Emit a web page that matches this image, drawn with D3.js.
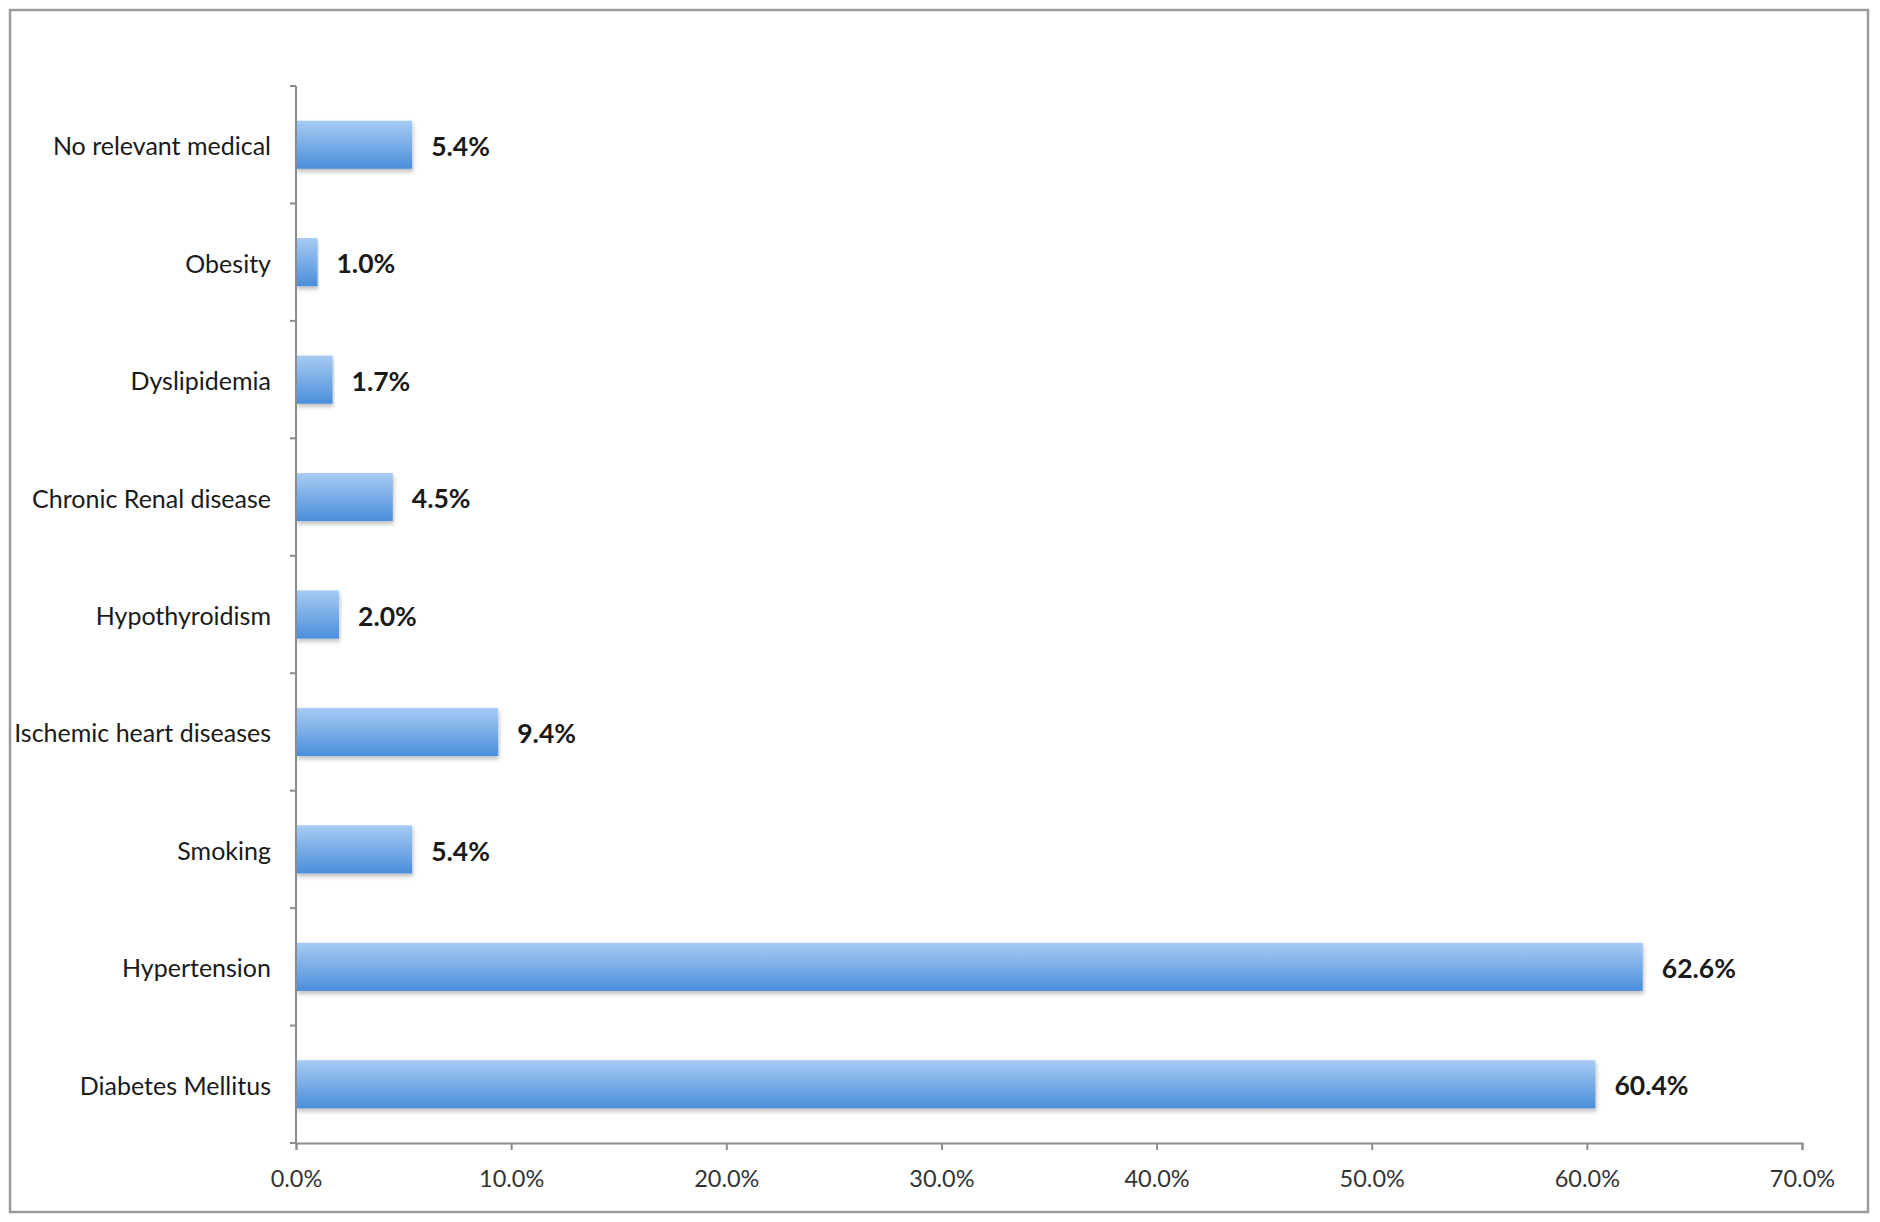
<!DOCTYPE html>
<html>
<head>
<meta charset="utf-8">
<script src="https://cdn.jsdelivr.net/npm/d3@7"></script>
<style>
  html, body { margin: 0; padding: 0; background: #fff; }
  #chart { width: 1880px; height: 1222px; }
  text { font-family: Lato, "Open Sans", sans-serif; }
</style>
</head>
<body>
<div id="chart"></div>
<script>
const categories = [
  "No relevant medical",
  "Obesity",
  "Dyslipidemia",
  "Chronic Renal disease",
  "Hypothyroidism",
  "Ischemic heart diseases",
  "Smoking",
  "Hypertension",
  "Diabetes Mellitus"
];
const percents = [5.4, 1.0, 1.7, 4.5, 2.0, 9.4, 5.4, 62.6, 60.4];
const xTicks = [0, 10, 20, 30, 40, 50, 60, 70];

const width = 1880;
const height = 1222;
const margin = { top: 86, right: 78, bottom: 79, left: 296 };

const svg = d3
  .select("#chart")
  .append("svg")
  .attr("width", width)
  .attr("height", height)
  .attr("viewBox", [0, 0, width, height]);

// gradient + shadow for the bars
const defs = svg.append("defs");
const grad = defs
  .append("linearGradient")
  .attr("id", "barGrad")
  .attr("x1", 0).attr("y1", 0).attr("x2", 0).attr("y2", 1);
grad.append("stop").attr("offset", "0%").attr("stop-color", "#a7cbf3");
grad.append("stop").attr("offset", "100%").attr("stop-color", "#4a8edb");

const shadow = defs.append("filter").attr("id", "shadow")
  .attr("x", "-5%").attr("y", "-20%").attr("width", "110%").attr("height", "160%");
shadow.append("feDropShadow")
  .attr("dx", 1).attr("dy", 3).attr("stdDeviation", 2)
  .attr("flood-color", "#000").attr("flood-opacity", 0.25);

// outer frame
svg.append("rect")
  .attr("x", 10).attr("y", 10)
  .attr("width", 1858).attr("height", 1202)
  .attr("fill", "none")
  .attr("stroke", "#9a9a9a")
  .attr("stroke-width", 2.5);

const x = d3.scaleLinear()
  .domain([0, 70])
  .range([margin.left, width - margin.right]);

const y = d3.scaleBand()
  .domain(categories)
  .range([margin.top, height - margin.bottom])
  .paddingInner(0.59)
  .paddingOuter(0.295);

// bars
svg.append("g")
  .selectAll("rect")
  .data(categories)
  .enter()
  .append("rect")
  .attr("x", x(0))
  .attr("y", (d) => y(d))
  .attr("width", (d, i) => x(percents[i]) - x(0))
  .attr("height", y.bandwidth())
  .attr("fill", "url(#barGrad)")
  .attr("filter", "url(#shadow)");

// value labels
svg.append("g")
  .selectAll("text")
  .data(categories)
  .enter()
  .append("text")
  .attr("x", (d, i) => x(percents[i]) + 19)
  .attr("y", (d) => y(d) + y.bandwidth() / 2)
  .attr("dy", "0.42em")
  .attr("font-size", 26.5)
  .attr("font-weight", "bold")
  .attr("fill", "#1a1a1a")
  .text((d, i) => percents[i].toFixed(1) + "%");

// y axis line + ticks at band boundaries
const axisColor = "#8c8c8c";
const yAxis = svg.append("g");
yAxis.append("line")
  .attr("x1", x(0)).attr("x2", x(0))
  .attr("y1", margin.top).attr("y2", height - margin.bottom)
  .attr("stroke", axisColor).attr("stroke-width", 2);

const step = y.step();
const boundaries = d3.range(categories.length + 1).map((i) => margin.top + i * step);
yAxis.selectAll(".ytick")
  .data(boundaries)
  .enter()
  .append("line")
  .attr("x1", x(0) - 6).attr("x2", x(0))
  .attr("y1", (d) => d).attr("y2", (d) => d)
  .attr("stroke", axisColor).attr("stroke-width", 2);

yAxis.selectAll(".ylabel")
  .data(categories)
  .enter()
  .append("text")
  .attr("x", x(0) - 25)
  .attr("y", (d) => y(d) + y.bandwidth() / 2)
  .attr("dy", "0.42em")
  .attr("text-anchor", "end")
  .attr("font-size", 25)
  .attr("fill", "#1a1a1a")
  .text((d) => d);

// x axis
const xAxis = svg.append("g")
  .attr("transform", `translate(0,${height - margin.bottom})`)
  .call(
    d3.axisBottom(x)
      .tickValues(xTicks)
      .tickSize(7)
      .tickFormat((d) => d.toFixed(1) + "%")
  );
xAxis.select(".domain").attr("stroke", axisColor).attr("stroke-width", 2);
xAxis.selectAll(".tick line").attr("stroke", axisColor).attr("stroke-width", 2);
xAxis.selectAll(".tick text")
  .attr("y", 27)
  .attr("dy", "0.71em")
  .attr("font-size", 23.5)
  .attr("font-family", "Lato, 'Open Sans', sans-serif")
  .attr("fill", "#333");
</script>
</body>
</html>
